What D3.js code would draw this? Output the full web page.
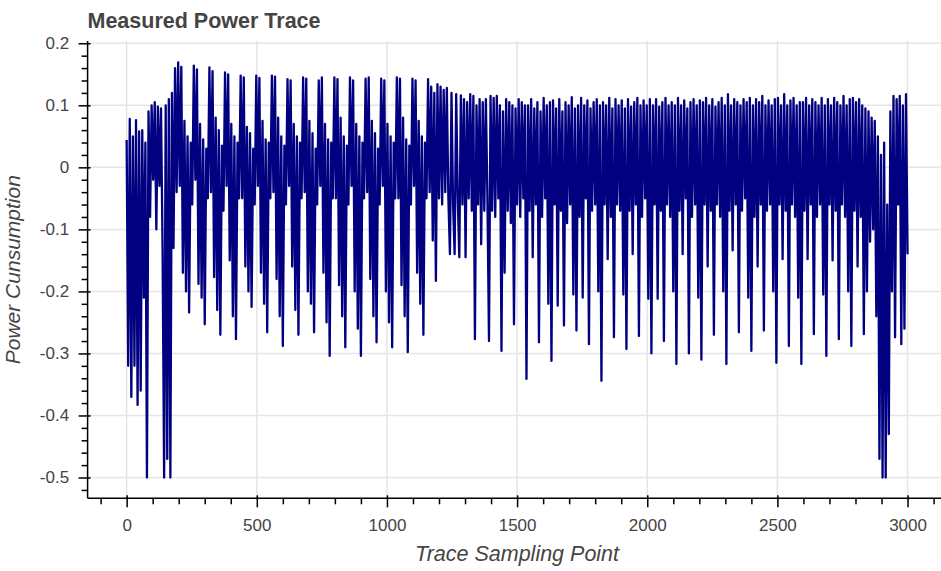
<!DOCTYPE html>
<html>
<head>
<meta charset="utf-8">
<script src="https://cdn.jsdelivr.net/npm/d3@7"></script>
<style>
  body { margin: 0; background: #fff; }
  svg { display: block; font-family: Helvetica, Arial, "Liberation Sans", sans-serif; }
</style>
</head>
<body>
<div id="output"></div>
<script>
// power trace, one value every 6th sampling point
const sampleStep = 6;

// 0 - 192: ramp up, deep drops to -0.5
const traceHead = [
    0.044, -0.32, 0.078, -0.37, 0.05, -0.32, 0.076, -0.383, 0.058, -0.36,
    0.06, -0.21, 0.04, -0.5, 0.09, -0.08, 0.1, -0.02, 0.105, -0.1,
    0.098, -0.03, 0.095, -0.13, -0.5, 0.1, -0.47, 0.11, -0.5, 0.12,
    -0.13, 0.16, -0.04
];

// 198 - 1152: sixteen big cycles, peak then trough
const traceCycles = [
    0.169, -0.03, 0.162, -0.17, 0.075, -0.2, 0.05, -0.234, 0.04, -0.06,
    0.164, -0.02, 0.158, -0.188, 0.07, -0.21, 0.045, -0.253, 0.03, -0.05,
    0.161, -0.04, 0.155, -0.177, 0.08, -0.23, 0.06, -0.27, 0.035, -0.07,
    0.153, -0.03, 0.15, -0.15, 0.07, -0.24, 0.05, -0.277, 0.04, -0.05,
    0.148, -0.05, 0.145, -0.16, 0.065, -0.2, 0.055, -0.225, 0.03, -0.06,
    0.148, -0.03, 0.144, -0.17, 0.075, -0.22, 0.045, -0.266, 0.04, -0.05,
    0.148, -0.04, 0.146, -0.18, 0.08, -0.24, 0.05, -0.288, 0.035, -0.06,
    0.142, -0.03, 0.14, -0.16, 0.07, -0.23, 0.05, -0.27, 0.04, -0.05,
    0.145, -0.04, 0.143, -0.2, 0.075, -0.22, 0.055, -0.266, 0.03, -0.06,
    0.14, -0.03, 0.145, -0.17, 0.07, -0.25, 0.045, -0.304, 0.04, -0.05,
    0.145, -0.05, 0.142, -0.19, 0.08, -0.24, 0.05, -0.29, 0.035, -0.06,
    0.145, -0.03, 0.14, -0.2, 0.07, -0.26, 0.05, -0.304, 0.04, -0.05,
    0.143, -0.04, 0.145, -0.18, 0.075, -0.24, 0.055, -0.282, 0.03, -0.06,
    0.143, -0.03, 0.14, -0.2, 0.07, -0.25, 0.05, -0.29, 0.04, -0.05,
    0.145, -0.05, 0.143, -0.19, 0.08, -0.24, 0.045, -0.298, 0.035, -0.06,
    0.143, -0.03, 0.14, -0.17, 0.075, -0.22, 0.05, -0.27, 0.04, -0.05
];

// 1158 - 1530: change over to the dense band
const traceShift = [
    0.142, -0.04, 0.13, -0.118, 0.12, -0.183, 0.134, -0.05, 0.13, -0.06,
    0.125, -0.04, 0.128, -0.05, -0.14, 0.12, -0.06, -0.14, 0.118, -0.05,
    -0.145, 0.116, -0.06, 0.11, -0.145, 0.105, -0.05, 0.118, -0.07, 0.115,
    -0.277, 0.1, -0.06, 0.11, -0.124, 0.105, -0.07, 0.11, -0.05, -0.28,
    0.115, -0.07, 0.112, -0.08, 0.115, -0.05, 0.1, -0.296, 0.09, -0.17,
    0.11, -0.07, 0.105, -0.09, 0.1, -0.253, 0.095, -0.06, 0.11, -0.08,
    0.105, -0.05, 0.1
];

// 1536 - 2874: dense band, two deep spikes every 96 points
const traceBand = [
    -0.341, 0.1, -0.07, 0.11, -0.145, 0.095, -0.06, 0.105, -0.282, 0.09, -0.08, 0.112, -0.05, 0.1, -0.22, 0.105,
    -0.312, 0.108, -0.06, 0.095, -0.223, 0.11, -0.07, 0.09, -0.255, 0.105, -0.09, 0.1, -0.06, 0.113, -0.205, 0.095,
    -0.263, 0.1, -0.08, 0.112, -0.21, 0.1, -0.05, 0.108, -0.285, 0.095, -0.07, 0.105, -0.06, 0.11, -0.2, 0.1,
    -0.344, 0.105, -0.06, 0.1, -0.148, 0.112, -0.08, 0.095, -0.274, 0.11, -0.06, 0.1, -0.07, 0.108, -0.205, 0.095,
    -0.293, 0.11, -0.07, 0.098, -0.14, 0.105, -0.06, 0.112, -0.272, 0.1, -0.08, 0.108, -0.05, 0.1, -0.212, 0.11,
    -0.3, 0.1, -0.06, 0.11, -0.212, 0.098, -0.07, 0.105, -0.28, 0.112, -0.06, 0.1, -0.08, 0.105, -0.2, 0.1,
    -0.317, 0.112, -0.07, 0.1, -0.14, 0.108, -0.05, 0.095, -0.3, 0.105, -0.08, 0.11, -0.06, 0.1, -0.21, 0.108,
    -0.31, 0.105, -0.06, 0.112, -0.16, 0.1, -0.07, 0.11, -0.27, 0.098, -0.06, 0.105, -0.08, 0.112, -0.2, 0.1,
    -0.317, 0.118, -0.07, 0.1, -0.134, 0.11, -0.06, 0.105, -0.266, 0.1, -0.07, 0.11, -0.05, 0.105, -0.21, 0.112,
    -0.296, 0.1, -0.08, 0.11, -0.16, 0.105, -0.06, 0.115, -0.263, 0.1, -0.07, 0.108, -0.06, 0.1, -0.2, 0.11,
    -0.315, 0.112, -0.06, 0.1, -0.148, 0.118, -0.07, 0.1, -0.288, 0.108, -0.06, 0.112, -0.08, 0.1, -0.21, 0.105,
    -0.317, 0.105, -0.07, 0.112, -0.148, 0.1, -0.06, 0.11, -0.269, 0.105, -0.08, 0.1, -0.06, 0.112, -0.205, 0.1,
    -0.304, 0.11, -0.06, 0.1, -0.15, 0.112, -0.07, 0.105, -0.277, 0.1, -0.06, 0.115, -0.08, 0.1, -0.2, 0.11,
    -0.288, 0.112, -0.07, 0.105, -0.16, 0.11, -0.08, 0.1, -0.269, 0.095, -0.2, 0.09, -0.12, 0.08, -0.1, 0.075
];

// 2880 - 3000: final drop and recovery
const traceTail = [
    -0.24, 0.05, -0.47, 0.02, -0.5, 0.04, -0.5, -0.06, -0.43, 0.09,
    -0.2, 0.115, -0.274, 0.11, -0.06, 0.115, -0.285, 0.1, -0.26, 0.118,
    -0.14
];

const xTicks = [0, 500, 1000, 1500, 2000, 2500, 3000];
const yTicks = [-0.5, -0.4, -0.3, -0.2, -0.1, 0, 0.1, 0.2];
const yTickLabels = ["-0.5", "-0.4", "-0.3", "-0.2", "-0.1", "0", "0.1", "0.2"];

const width = 941, height = 571;
const frame = {left: 87.6, right: 946.6, top: 41.1, bottom: 498.3};

const trace = [].concat(traceHead, traceCycles, traceShift, traceBand, traceTail)
    .map((v, i) => ({x: i * sampleStep, y: v}));

// bokeh style 10% range padding
const xExtent = d3.extent(trace, d => d.x);
const yExtent = d3.extent(trace, d => d.y);
const xPad = (xExtent[1] - xExtent[0]) * 0.05;
const yPad = (0.17 - yExtent[0]) * 0.05;

const x = d3.scaleLinear()
    .domain([xExtent[0] - xPad, xExtent[1] + xPad])
    .range([frame.left, frame.right]);

const y = d3.scaleLinear()
    .domain([yExtent[0] - yPad, 0.17 + yPad])
    .range([frame.bottom, frame.top]);

const svg = d3.select("#output").append("svg")
    .attr("width", width)
    .attr("height", height);

svg.append("rect")
    .attr("width", width)
    .attr("height", height)
    .attr("fill", "#fff");

// grid
svg.append("g")
    .attr("stroke", "#e5e5e5")
    .attr("stroke-width", 1.5)
    .call(g => g.selectAll(".vx").data(xTicks).join("line")
        .attr("x1", d => x(d)).attr("x2", d => x(d))
        .attr("y1", frame.top).attr("y2", frame.bottom))
    .call(g => g.selectAll(".hy").data(yTicks).join("line")
        .attr("x1", frame.left).attr("x2", frame.right)
        .attr("y1", d => y(d)).attr("y2", d => y(d)));

svg.append("defs").append("clipPath")
    .attr("id", "clip")
    .append("rect")
    .attr("x", frame.left)
    .attr("y", frame.top)
    .attr("width", frame.right - frame.left)
    .attr("height", frame.bottom - frame.top);

const line = d3.line()
    .x(d => x(d.x))
    .y(d => y(d.y));

svg.append("path")
    .datum(trace)
    .attr("clip-path", "url(#clip)")
    .attr("fill", "none")
    .attr("stroke", "#000080")
    .attr("stroke-width", 2.3)
    .attr("stroke-linejoin", "round")
    .attr("d", line);

// axes
const xMinor = d3.range(-100, 3101, 100).filter(v => v % 500 !== 0);
const yMinor = d3.range(-26, 11).map(v => v * 0.02).filter(v => Math.abs(Math.round(v * 50)) % 5 !== 0);

const xAxis = svg.append("g")
    .attr("transform", `translate(0,${frame.bottom})`)
    .call(d3.axisBottom(x).tickValues(xTicks).tickSize(9).tickPadding(12).tickFormat(d3.format("d")));
xAxis.select(".domain").remove();
xAxis.selectAll(".tick line").attr("y1", -3).attr("stroke-width", 1.5);

const xMinorAxis = svg.append("g")
    .attr("transform", `translate(0,${frame.bottom})`)
    .call(d3.axisBottom(x).tickValues(xMinor).tickSize(6).tickFormat(""));
xMinorAxis.select(".domain").remove();
xMinorAxis.selectAll(".tick line").attr("stroke-width", 1.5);

const yAxis = svg.append("g")
    .attr("transform", `translate(${frame.left},0)`)
    .call(d3.axisLeft(y).tickValues(yTicks).tickSize(9).tickPadding(9.5)
        .tickFormat((d, i) => yTickLabels[i]));
yAxis.select(".domain").remove();
yAxis.selectAll(".tick line").attr("x1", 3).attr("stroke-width", 1.5);

const yMinorAxis = svg.append("g")
    .attr("transform", `translate(${frame.left},0)`)
    .call(d3.axisLeft(y).tickValues(yMinor).tickSize(6).tickFormat(""));
yMinorAxis.select(".domain").remove();
yMinorAxis.selectAll(".tick line").attr("stroke-width", 1.5);

svg.selectAll(".tick text")
    .attr("fill", "#444")
    .style("font-size", "17px")
    .style("font-family", "Helvetica, Arial, 'Liberation Sans', sans-serif");

svg.append("line")
    .attr("x1", frame.left).attr("x2", frame.right)
    .attr("y1", frame.bottom).attr("y2", frame.bottom)
    .attr("stroke", "#000").attr("stroke-width", 1.5);

svg.append("line")
    .attr("x1", frame.left).attr("x2", frame.left)
    .attr("y1", frame.top).attr("y2", frame.bottom)
    .attr("stroke", "#000").attr("stroke-width", 1.5);

// labels
svg.append("text")
    .attr("x", (frame.left + frame.right) / 2)
    .attr("y", 561)
    .attr("text-anchor", "middle")
    .attr("fill", "#444")
    .style("font-size", "21.5px")
    .style("font-style", "italic")
    .text("Trace Sampling Point");

svg.append("text")
    .attr("transform", `translate(20,${(frame.top + frame.bottom) / 2}) rotate(-90)`)
    .attr("text-anchor", "middle")
    .attr("fill", "#444")
    .style("font-size", "21px")
    .style("font-style", "italic")
    .text("Power Cunsumption");

svg.append("text")
    .attr("x", 87.5)
    .attr("y", 28)
    .attr("fill", "#444")
    .style("font-size", "21.5px")
    .style("font-weight", "bold")
    .text("Measured Power Trace");
</script>
</body>
</html>
